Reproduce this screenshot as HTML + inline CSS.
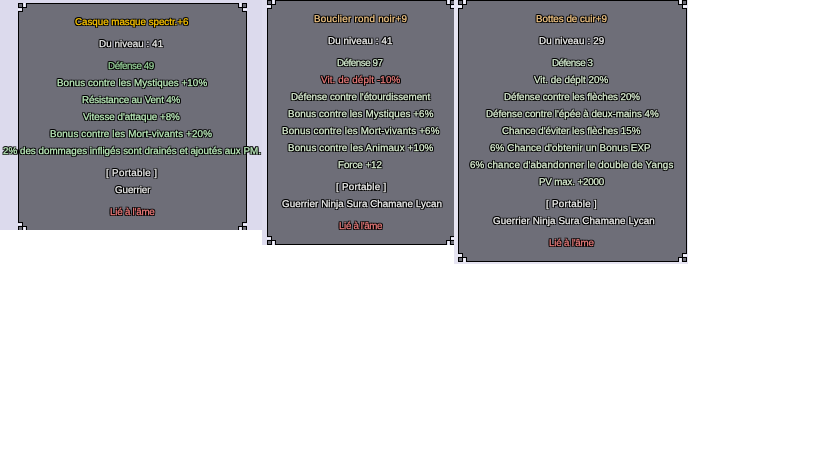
<!DOCTYPE html>
<html><head><meta charset="utf-8">
<style>
html,body{margin:0;padding:0;background:#fff;width:816px;height:460px;overflow:hidden;position:relative}
.im{position:absolute;overflow:hidden}
.pn{position:absolute;background:#6e6e78;box-sizing:border-box;border:1px solid #000}
.cn{position:absolute;display:block}
.t{position:absolute;white-space:nowrap;font-family:"Liberation Sans",sans-serif;font-size:9.8px;line-height:12px;will-change:transform;text-rendering:geometricPrecision;-webkit-text-stroke:0.25px currentColor;
text-shadow:1px 0 #000,-1px 0 #000,0 1px #000,0 -1px #000,1px 1px #000,-1px -1px #000,1px -1px #000,-1px 1px #000}
.t1{color:#ffc800}
.w{color:#ececec}
.g{color:#98d09a}
.b{color:#bcecbc}
.r{color:#f07a7a}
.q .t2{color:#f4c888}
.q .w{color:#f2f2f2}
.q .g{color:#d4ecd0}
.q .b{color:#dcf0d4}
.q .r{color:#ea7c7c}
</style></head><body>
<div class="im" style="left:0;top:0;width:262px;height:230px;background:#dcdaed">
<div class="pn" style="left:18px;top:3px;width:229px;height:228px"></div><svg class="cn" style="left:18px;top:3px" width="9" height="9" shape-rendering="crispEdges"><rect x="0" y="0" width="5" height="1" fill="#000"/><rect x="5" y="0" width="1" height="1" fill="#dcdaed"/><rect x="6" y="0" width="1" height="1" fill="#f4f4fb"/><rect x="7" y="0" width="1" height="1" fill="#dcdaed"/><rect x="8" y="0" width="1" height="1" fill="#000"/><rect x="0" y="1" width="1" height="1" fill="#000"/><rect x="1" y="1" width="3" height="1" fill="#6e6e78"/><rect x="4" y="1" width="1" height="1" fill="#000"/><rect x="5" y="1" width="1" height="1" fill="#dcdaed"/><rect x="6" y="1" width="1" height="1" fill="#f4f4fb"/><rect x="7" y="1" width="1" height="1" fill="#dcdaed"/><rect x="8" y="1" width="1" height="1" fill="#000"/><rect x="0" y="2" width="1" height="1" fill="#000"/><rect x="1" y="2" width="3" height="1" fill="#6e6e78"/><rect x="4" y="2" width="1" height="1" fill="#000"/><rect x="5" y="2" width="1" height="1" fill="#dcdaed"/><rect x="6" y="2" width="1" height="1" fill="#f4f4fb"/><rect x="7" y="2" width="1" height="1" fill="#dcdaed"/><rect x="8" y="2" width="1" height="1" fill="#000"/><rect x="0" y="3" width="1" height="1" fill="#000"/><rect x="1" y="3" width="3" height="1" fill="#6e6e78"/><rect x="4" y="3" width="1" height="1" fill="#000"/><rect x="5" y="3" width="1" height="1" fill="#dcdaed"/><rect x="6" y="3" width="1" height="1" fill="#f4f4fb"/><rect x="7" y="3" width="1" height="1" fill="#dcdaed"/><rect x="8" y="3" width="1" height="1" fill="#000"/><rect x="0" y="4" width="9" height="1" fill="#000"/><rect x="0" y="5" width="4" height="1" fill="#dcdaed"/><rect x="4" y="5" width="1" height="1" fill="#000"/><rect x="5" y="5" width="4" height="1" fill="#6e6e78"/><rect x="0" y="6" width="4" height="1" fill="#f4f4fb"/><rect x="4" y="6" width="1" height="1" fill="#000"/><rect x="5" y="6" width="4" height="1" fill="#6e6e78"/><rect x="0" y="7" width="4" height="1" fill="#dcdaed"/><rect x="4" y="7" width="1" height="1" fill="#000"/><rect x="5" y="7" width="4" height="1" fill="#6e6e78"/><rect x="0" y="8" width="5" height="1" fill="#000"/><rect x="5" y="8" width="4" height="1" fill="#6e6e78"/></svg><svg class="cn" style="left:238px;top:3px" width="9" height="9" shape-rendering="crispEdges"><rect x="0" y="0" width="1" height="1" fill="#000"/><rect x="1" y="0" width="1" height="1" fill="#dcdaed"/><rect x="2" y="0" width="1" height="1" fill="#f4f4fb"/><rect x="3" y="0" width="1" height="1" fill="#dcdaed"/><rect x="4" y="0" width="5" height="1" fill="#000"/><rect x="0" y="1" width="1" height="1" fill="#000"/><rect x="1" y="1" width="1" height="1" fill="#dcdaed"/><rect x="2" y="1" width="1" height="1" fill="#f4f4fb"/><rect x="3" y="1" width="1" height="1" fill="#dcdaed"/><rect x="4" y="1" width="1" height="1" fill="#000"/><rect x="5" y="1" width="3" height="1" fill="#6e6e78"/><rect x="8" y="1" width="1" height="1" fill="#000"/><rect x="0" y="2" width="1" height="1" fill="#000"/><rect x="1" y="2" width="1" height="1" fill="#dcdaed"/><rect x="2" y="2" width="1" height="1" fill="#f4f4fb"/><rect x="3" y="2" width="1" height="1" fill="#dcdaed"/><rect x="4" y="2" width="1" height="1" fill="#000"/><rect x="5" y="2" width="3" height="1" fill="#6e6e78"/><rect x="8" y="2" width="1" height="1" fill="#000"/><rect x="0" y="3" width="1" height="1" fill="#000"/><rect x="1" y="3" width="1" height="1" fill="#dcdaed"/><rect x="2" y="3" width="1" height="1" fill="#f4f4fb"/><rect x="3" y="3" width="1" height="1" fill="#dcdaed"/><rect x="4" y="3" width="1" height="1" fill="#000"/><rect x="5" y="3" width="3" height="1" fill="#6e6e78"/><rect x="8" y="3" width="1" height="1" fill="#000"/><rect x="0" y="4" width="9" height="1" fill="#000"/><rect x="0" y="5" width="4" height="1" fill="#6e6e78"/><rect x="4" y="5" width="1" height="1" fill="#000"/><rect x="5" y="5" width="4" height="1" fill="#dcdaed"/><rect x="0" y="6" width="4" height="1" fill="#6e6e78"/><rect x="4" y="6" width="1" height="1" fill="#000"/><rect x="5" y="6" width="4" height="1" fill="#f4f4fb"/><rect x="0" y="7" width="4" height="1" fill="#6e6e78"/><rect x="4" y="7" width="1" height="1" fill="#000"/><rect x="5" y="7" width="4" height="1" fill="#dcdaed"/><rect x="0" y="8" width="4" height="1" fill="#6e6e78"/><rect x="4" y="8" width="5" height="1" fill="#000"/></svg><svg class="cn" style="left:18px;top:222px" width="9" height="9" shape-rendering="crispEdges"><rect x="0" y="0" width="5" height="1" fill="#000"/><rect x="5" y="0" width="4" height="1" fill="#6e6e78"/><rect x="0" y="1" width="4" height="1" fill="#dcdaed"/><rect x="4" y="1" width="1" height="1" fill="#000"/><rect x="5" y="1" width="4" height="1" fill="#6e6e78"/><rect x="0" y="2" width="4" height="1" fill="#f4f4fb"/><rect x="4" y="2" width="1" height="1" fill="#000"/><rect x="5" y="2" width="4" height="1" fill="#6e6e78"/><rect x="0" y="3" width="4" height="1" fill="#dcdaed"/><rect x="4" y="3" width="1" height="1" fill="#000"/><rect x="5" y="3" width="4" height="1" fill="#6e6e78"/><rect x="0" y="4" width="9" height="1" fill="#000"/><rect x="0" y="5" width="1" height="1" fill="#000"/><rect x="1" y="5" width="3" height="1" fill="#6e6e78"/><rect x="4" y="5" width="1" height="1" fill="#000"/><rect x="5" y="5" width="1" height="1" fill="#dcdaed"/><rect x="6" y="5" width="1" height="1" fill="#f4f4fb"/><rect x="7" y="5" width="1" height="1" fill="#dcdaed"/><rect x="8" y="5" width="1" height="1" fill="#000"/><rect x="0" y="6" width="1" height="1" fill="#000"/><rect x="1" y="6" width="3" height="1" fill="#6e6e78"/><rect x="4" y="6" width="1" height="1" fill="#000"/><rect x="5" y="6" width="1" height="1" fill="#dcdaed"/><rect x="6" y="6" width="1" height="1" fill="#f4f4fb"/><rect x="7" y="6" width="1" height="1" fill="#dcdaed"/><rect x="8" y="6" width="1" height="1" fill="#000"/><rect x="0" y="7" width="1" height="1" fill="#000"/><rect x="1" y="7" width="3" height="1" fill="#6e6e78"/><rect x="4" y="7" width="1" height="1" fill="#000"/><rect x="5" y="7" width="1" height="1" fill="#dcdaed"/><rect x="6" y="7" width="1" height="1" fill="#f4f4fb"/><rect x="7" y="7" width="1" height="1" fill="#dcdaed"/><rect x="8" y="7" width="1" height="1" fill="#000"/><rect x="0" y="8" width="5" height="1" fill="#000"/><rect x="5" y="8" width="1" height="1" fill="#dcdaed"/><rect x="6" y="8" width="1" height="1" fill="#f4f4fb"/><rect x="7" y="8" width="1" height="1" fill="#dcdaed"/><rect x="8" y="8" width="1" height="1" fill="#000"/></svg><svg class="cn" style="left:238px;top:222px" width="9" height="9" shape-rendering="crispEdges"><rect x="0" y="0" width="4" height="1" fill="#6e6e78"/><rect x="4" y="0" width="5" height="1" fill="#000"/><rect x="0" y="1" width="4" height="1" fill="#6e6e78"/><rect x="4" y="1" width="1" height="1" fill="#000"/><rect x="5" y="1" width="4" height="1" fill="#dcdaed"/><rect x="0" y="2" width="4" height="1" fill="#6e6e78"/><rect x="4" y="2" width="1" height="1" fill="#000"/><rect x="5" y="2" width="4" height="1" fill="#f4f4fb"/><rect x="0" y="3" width="4" height="1" fill="#6e6e78"/><rect x="4" y="3" width="1" height="1" fill="#000"/><rect x="5" y="3" width="4" height="1" fill="#dcdaed"/><rect x="0" y="4" width="9" height="1" fill="#000"/><rect x="0" y="5" width="1" height="1" fill="#000"/><rect x="1" y="5" width="1" height="1" fill="#dcdaed"/><rect x="2" y="5" width="1" height="1" fill="#f4f4fb"/><rect x="3" y="5" width="1" height="1" fill="#dcdaed"/><rect x="4" y="5" width="1" height="1" fill="#000"/><rect x="5" y="5" width="3" height="1" fill="#6e6e78"/><rect x="8" y="5" width="1" height="1" fill="#000"/><rect x="0" y="6" width="1" height="1" fill="#000"/><rect x="1" y="6" width="1" height="1" fill="#dcdaed"/><rect x="2" y="6" width="1" height="1" fill="#f4f4fb"/><rect x="3" y="6" width="1" height="1" fill="#dcdaed"/><rect x="4" y="6" width="1" height="1" fill="#000"/><rect x="5" y="6" width="3" height="1" fill="#6e6e78"/><rect x="8" y="6" width="1" height="1" fill="#000"/><rect x="0" y="7" width="1" height="1" fill="#000"/><rect x="1" y="7" width="1" height="1" fill="#dcdaed"/><rect x="2" y="7" width="1" height="1" fill="#f4f4fb"/><rect x="3" y="7" width="1" height="1" fill="#dcdaed"/><rect x="4" y="7" width="1" height="1" fill="#000"/><rect x="5" y="7" width="3" height="1" fill="#6e6e78"/><rect x="8" y="7" width="1" height="1" fill="#000"/><rect x="0" y="8" width="1" height="1" fill="#000"/><rect x="1" y="8" width="1" height="1" fill="#dcdaed"/><rect x="2" y="8" width="1" height="1" fill="#f4f4fb"/><rect x="3" y="8" width="1" height="1" fill="#dcdaed"/><rect x="4" y="8" width="5" height="1" fill="#000"/></svg>
</div>
<div class="im" style="left:262px;top:0;width:192px;height:245px;background:#dfddef">
<div class="pn" style="left:5px;top:0px;width:188px;height:245px"></div><svg class="cn" style="left:5px;top:0px" width="9" height="9" shape-rendering="crispEdges"><rect x="0" y="0" width="5" height="1" fill="#000"/><rect x="5" y="0" width="1" height="1" fill="#dfddef"/><rect x="6" y="0" width="1" height="1" fill="#f4f4fb"/><rect x="7" y="0" width="1" height="1" fill="#dfddef"/><rect x="8" y="0" width="1" height="1" fill="#000"/><rect x="0" y="1" width="1" height="1" fill="#000"/><rect x="1" y="1" width="3" height="1" fill="#6e6e78"/><rect x="4" y="1" width="1" height="1" fill="#000"/><rect x="5" y="1" width="1" height="1" fill="#dfddef"/><rect x="6" y="1" width="1" height="1" fill="#f4f4fb"/><rect x="7" y="1" width="1" height="1" fill="#dfddef"/><rect x="8" y="1" width="1" height="1" fill="#000"/><rect x="0" y="2" width="1" height="1" fill="#000"/><rect x="1" y="2" width="3" height="1" fill="#6e6e78"/><rect x="4" y="2" width="1" height="1" fill="#000"/><rect x="5" y="2" width="1" height="1" fill="#dfddef"/><rect x="6" y="2" width="1" height="1" fill="#f4f4fb"/><rect x="7" y="2" width="1" height="1" fill="#dfddef"/><rect x="8" y="2" width="1" height="1" fill="#000"/><rect x="0" y="3" width="1" height="1" fill="#000"/><rect x="1" y="3" width="3" height="1" fill="#6e6e78"/><rect x="4" y="3" width="1" height="1" fill="#000"/><rect x="5" y="3" width="1" height="1" fill="#dfddef"/><rect x="6" y="3" width="1" height="1" fill="#f4f4fb"/><rect x="7" y="3" width="1" height="1" fill="#dfddef"/><rect x="8" y="3" width="1" height="1" fill="#000"/><rect x="0" y="4" width="9" height="1" fill="#000"/><rect x="0" y="5" width="4" height="1" fill="#dfddef"/><rect x="4" y="5" width="1" height="1" fill="#000"/><rect x="5" y="5" width="4" height="1" fill="#6e6e78"/><rect x="0" y="6" width="4" height="1" fill="#f4f4fb"/><rect x="4" y="6" width="1" height="1" fill="#000"/><rect x="5" y="6" width="4" height="1" fill="#6e6e78"/><rect x="0" y="7" width="4" height="1" fill="#dfddef"/><rect x="4" y="7" width="1" height="1" fill="#000"/><rect x="5" y="7" width="4" height="1" fill="#6e6e78"/><rect x="0" y="8" width="5" height="1" fill="#000"/><rect x="5" y="8" width="4" height="1" fill="#6e6e78"/></svg><svg class="cn" style="left:184px;top:0px" width="9" height="9" shape-rendering="crispEdges"><rect x="0" y="0" width="1" height="1" fill="#000"/><rect x="1" y="0" width="1" height="1" fill="#dfddef"/><rect x="2" y="0" width="1" height="1" fill="#f4f4fb"/><rect x="3" y="0" width="1" height="1" fill="#dfddef"/><rect x="4" y="0" width="5" height="1" fill="#000"/><rect x="0" y="1" width="1" height="1" fill="#000"/><rect x="1" y="1" width="1" height="1" fill="#dfddef"/><rect x="2" y="1" width="1" height="1" fill="#f4f4fb"/><rect x="3" y="1" width="1" height="1" fill="#dfddef"/><rect x="4" y="1" width="1" height="1" fill="#000"/><rect x="5" y="1" width="3" height="1" fill="#6e6e78"/><rect x="8" y="1" width="1" height="1" fill="#000"/><rect x="0" y="2" width="1" height="1" fill="#000"/><rect x="1" y="2" width="1" height="1" fill="#dfddef"/><rect x="2" y="2" width="1" height="1" fill="#f4f4fb"/><rect x="3" y="2" width="1" height="1" fill="#dfddef"/><rect x="4" y="2" width="1" height="1" fill="#000"/><rect x="5" y="2" width="3" height="1" fill="#6e6e78"/><rect x="8" y="2" width="1" height="1" fill="#000"/><rect x="0" y="3" width="1" height="1" fill="#000"/><rect x="1" y="3" width="1" height="1" fill="#dfddef"/><rect x="2" y="3" width="1" height="1" fill="#f4f4fb"/><rect x="3" y="3" width="1" height="1" fill="#dfddef"/><rect x="4" y="3" width="1" height="1" fill="#000"/><rect x="5" y="3" width="3" height="1" fill="#6e6e78"/><rect x="8" y="3" width="1" height="1" fill="#000"/><rect x="0" y="4" width="9" height="1" fill="#000"/><rect x="0" y="5" width="4" height="1" fill="#6e6e78"/><rect x="4" y="5" width="1" height="1" fill="#000"/><rect x="5" y="5" width="4" height="1" fill="#dfddef"/><rect x="0" y="6" width="4" height="1" fill="#6e6e78"/><rect x="4" y="6" width="1" height="1" fill="#000"/><rect x="5" y="6" width="4" height="1" fill="#f4f4fb"/><rect x="0" y="7" width="4" height="1" fill="#6e6e78"/><rect x="4" y="7" width="1" height="1" fill="#000"/><rect x="5" y="7" width="4" height="1" fill="#dfddef"/><rect x="0" y="8" width="4" height="1" fill="#6e6e78"/><rect x="4" y="8" width="5" height="1" fill="#000"/></svg><svg class="cn" style="left:5px;top:236px" width="9" height="9" shape-rendering="crispEdges"><rect x="0" y="0" width="5" height="1" fill="#000"/><rect x="5" y="0" width="4" height="1" fill="#6e6e78"/><rect x="0" y="1" width="4" height="1" fill="#dfddef"/><rect x="4" y="1" width="1" height="1" fill="#000"/><rect x="5" y="1" width="4" height="1" fill="#6e6e78"/><rect x="0" y="2" width="4" height="1" fill="#f4f4fb"/><rect x="4" y="2" width="1" height="1" fill="#000"/><rect x="5" y="2" width="4" height="1" fill="#6e6e78"/><rect x="0" y="3" width="4" height="1" fill="#dfddef"/><rect x="4" y="3" width="1" height="1" fill="#000"/><rect x="5" y="3" width="4" height="1" fill="#6e6e78"/><rect x="0" y="4" width="9" height="1" fill="#000"/><rect x="0" y="5" width="1" height="1" fill="#000"/><rect x="1" y="5" width="3" height="1" fill="#6e6e78"/><rect x="4" y="5" width="1" height="1" fill="#000"/><rect x="5" y="5" width="1" height="1" fill="#dfddef"/><rect x="6" y="5" width="1" height="1" fill="#f4f4fb"/><rect x="7" y="5" width="1" height="1" fill="#dfddef"/><rect x="8" y="5" width="1" height="1" fill="#000"/><rect x="0" y="6" width="1" height="1" fill="#000"/><rect x="1" y="6" width="3" height="1" fill="#6e6e78"/><rect x="4" y="6" width="1" height="1" fill="#000"/><rect x="5" y="6" width="1" height="1" fill="#dfddef"/><rect x="6" y="6" width="1" height="1" fill="#f4f4fb"/><rect x="7" y="6" width="1" height="1" fill="#dfddef"/><rect x="8" y="6" width="1" height="1" fill="#000"/><rect x="0" y="7" width="1" height="1" fill="#000"/><rect x="1" y="7" width="3" height="1" fill="#6e6e78"/><rect x="4" y="7" width="1" height="1" fill="#000"/><rect x="5" y="7" width="1" height="1" fill="#dfddef"/><rect x="6" y="7" width="1" height="1" fill="#f4f4fb"/><rect x="7" y="7" width="1" height="1" fill="#dfddef"/><rect x="8" y="7" width="1" height="1" fill="#000"/><rect x="0" y="8" width="5" height="1" fill="#000"/><rect x="5" y="8" width="1" height="1" fill="#dfddef"/><rect x="6" y="8" width="1" height="1" fill="#f4f4fb"/><rect x="7" y="8" width="1" height="1" fill="#dfddef"/><rect x="8" y="8" width="1" height="1" fill="#000"/></svg><svg class="cn" style="left:184px;top:236px" width="9" height="9" shape-rendering="crispEdges"><rect x="0" y="0" width="4" height="1" fill="#6e6e78"/><rect x="4" y="0" width="5" height="1" fill="#000"/><rect x="0" y="1" width="4" height="1" fill="#6e6e78"/><rect x="4" y="1" width="1" height="1" fill="#000"/><rect x="5" y="1" width="4" height="1" fill="#dfddef"/><rect x="0" y="2" width="4" height="1" fill="#6e6e78"/><rect x="4" y="2" width="1" height="1" fill="#000"/><rect x="5" y="2" width="4" height="1" fill="#f4f4fb"/><rect x="0" y="3" width="4" height="1" fill="#6e6e78"/><rect x="4" y="3" width="1" height="1" fill="#000"/><rect x="5" y="3" width="4" height="1" fill="#dfddef"/><rect x="0" y="4" width="9" height="1" fill="#000"/><rect x="0" y="5" width="1" height="1" fill="#000"/><rect x="1" y="5" width="1" height="1" fill="#dfddef"/><rect x="2" y="5" width="1" height="1" fill="#f4f4fb"/><rect x="3" y="5" width="1" height="1" fill="#dfddef"/><rect x="4" y="5" width="1" height="1" fill="#000"/><rect x="5" y="5" width="3" height="1" fill="#6e6e78"/><rect x="8" y="5" width="1" height="1" fill="#000"/><rect x="0" y="6" width="1" height="1" fill="#000"/><rect x="1" y="6" width="1" height="1" fill="#dfddef"/><rect x="2" y="6" width="1" height="1" fill="#f4f4fb"/><rect x="3" y="6" width="1" height="1" fill="#dfddef"/><rect x="4" y="6" width="1" height="1" fill="#000"/><rect x="5" y="6" width="3" height="1" fill="#6e6e78"/><rect x="8" y="6" width="1" height="1" fill="#000"/><rect x="0" y="7" width="1" height="1" fill="#000"/><rect x="1" y="7" width="1" height="1" fill="#dfddef"/><rect x="2" y="7" width="1" height="1" fill="#f4f4fb"/><rect x="3" y="7" width="1" height="1" fill="#dfddef"/><rect x="4" y="7" width="1" height="1" fill="#000"/><rect x="5" y="7" width="3" height="1" fill="#6e6e78"/><rect x="8" y="7" width="1" height="1" fill="#000"/><rect x="0" y="8" width="1" height="1" fill="#000"/><rect x="1" y="8" width="1" height="1" fill="#dfddef"/><rect x="2" y="8" width="1" height="1" fill="#f4f4fb"/><rect x="3" y="8" width="1" height="1" fill="#dfddef"/><rect x="4" y="8" width="5" height="1" fill="#000"/></svg>
</div>
<div class="im" style="left:454px;top:0;width:234px;height:264px;background:#e6e4f2">
<div class="pn" style="left:4px;top:0px;width:229px;height:262px"></div><svg class="cn" style="left:4px;top:0px" width="9" height="9" shape-rendering="crispEdges"><rect x="0" y="0" width="5" height="1" fill="#000"/><rect x="5" y="0" width="1" height="1" fill="#e6e4f2"/><rect x="6" y="0" width="1" height="1" fill="#f4f4fb"/><rect x="7" y="0" width="1" height="1" fill="#e6e4f2"/><rect x="8" y="0" width="1" height="1" fill="#000"/><rect x="0" y="1" width="1" height="1" fill="#000"/><rect x="1" y="1" width="3" height="1" fill="#6e6e78"/><rect x="4" y="1" width="1" height="1" fill="#000"/><rect x="5" y="1" width="1" height="1" fill="#e6e4f2"/><rect x="6" y="1" width="1" height="1" fill="#f4f4fb"/><rect x="7" y="1" width="1" height="1" fill="#e6e4f2"/><rect x="8" y="1" width="1" height="1" fill="#000"/><rect x="0" y="2" width="1" height="1" fill="#000"/><rect x="1" y="2" width="3" height="1" fill="#6e6e78"/><rect x="4" y="2" width="1" height="1" fill="#000"/><rect x="5" y="2" width="1" height="1" fill="#e6e4f2"/><rect x="6" y="2" width="1" height="1" fill="#f4f4fb"/><rect x="7" y="2" width="1" height="1" fill="#e6e4f2"/><rect x="8" y="2" width="1" height="1" fill="#000"/><rect x="0" y="3" width="1" height="1" fill="#000"/><rect x="1" y="3" width="3" height="1" fill="#6e6e78"/><rect x="4" y="3" width="1" height="1" fill="#000"/><rect x="5" y="3" width="1" height="1" fill="#e6e4f2"/><rect x="6" y="3" width="1" height="1" fill="#f4f4fb"/><rect x="7" y="3" width="1" height="1" fill="#e6e4f2"/><rect x="8" y="3" width="1" height="1" fill="#000"/><rect x="0" y="4" width="9" height="1" fill="#000"/><rect x="0" y="5" width="4" height="1" fill="#e6e4f2"/><rect x="4" y="5" width="1" height="1" fill="#000"/><rect x="5" y="5" width="4" height="1" fill="#6e6e78"/><rect x="0" y="6" width="4" height="1" fill="#f4f4fb"/><rect x="4" y="6" width="1" height="1" fill="#000"/><rect x="5" y="6" width="4" height="1" fill="#6e6e78"/><rect x="0" y="7" width="4" height="1" fill="#e6e4f2"/><rect x="4" y="7" width="1" height="1" fill="#000"/><rect x="5" y="7" width="4" height="1" fill="#6e6e78"/><rect x="0" y="8" width="5" height="1" fill="#000"/><rect x="5" y="8" width="4" height="1" fill="#6e6e78"/></svg><svg class="cn" style="left:224px;top:0px" width="9" height="9" shape-rendering="crispEdges"><rect x="0" y="0" width="1" height="1" fill="#000"/><rect x="1" y="0" width="1" height="1" fill="#e6e4f2"/><rect x="2" y="0" width="1" height="1" fill="#f4f4fb"/><rect x="3" y="0" width="1" height="1" fill="#e6e4f2"/><rect x="4" y="0" width="5" height="1" fill="#000"/><rect x="0" y="1" width="1" height="1" fill="#000"/><rect x="1" y="1" width="1" height="1" fill="#e6e4f2"/><rect x="2" y="1" width="1" height="1" fill="#f4f4fb"/><rect x="3" y="1" width="1" height="1" fill="#e6e4f2"/><rect x="4" y="1" width="1" height="1" fill="#000"/><rect x="5" y="1" width="3" height="1" fill="#6e6e78"/><rect x="8" y="1" width="1" height="1" fill="#000"/><rect x="0" y="2" width="1" height="1" fill="#000"/><rect x="1" y="2" width="1" height="1" fill="#e6e4f2"/><rect x="2" y="2" width="1" height="1" fill="#f4f4fb"/><rect x="3" y="2" width="1" height="1" fill="#e6e4f2"/><rect x="4" y="2" width="1" height="1" fill="#000"/><rect x="5" y="2" width="3" height="1" fill="#6e6e78"/><rect x="8" y="2" width="1" height="1" fill="#000"/><rect x="0" y="3" width="1" height="1" fill="#000"/><rect x="1" y="3" width="1" height="1" fill="#e6e4f2"/><rect x="2" y="3" width="1" height="1" fill="#f4f4fb"/><rect x="3" y="3" width="1" height="1" fill="#e6e4f2"/><rect x="4" y="3" width="1" height="1" fill="#000"/><rect x="5" y="3" width="3" height="1" fill="#6e6e78"/><rect x="8" y="3" width="1" height="1" fill="#000"/><rect x="0" y="4" width="9" height="1" fill="#000"/><rect x="0" y="5" width="4" height="1" fill="#6e6e78"/><rect x="4" y="5" width="1" height="1" fill="#000"/><rect x="5" y="5" width="4" height="1" fill="#e6e4f2"/><rect x="0" y="6" width="4" height="1" fill="#6e6e78"/><rect x="4" y="6" width="1" height="1" fill="#000"/><rect x="5" y="6" width="4" height="1" fill="#f4f4fb"/><rect x="0" y="7" width="4" height="1" fill="#6e6e78"/><rect x="4" y="7" width="1" height="1" fill="#000"/><rect x="5" y="7" width="4" height="1" fill="#e6e4f2"/><rect x="0" y="8" width="4" height="1" fill="#6e6e78"/><rect x="4" y="8" width="5" height="1" fill="#000"/></svg><svg class="cn" style="left:4px;top:253px" width="9" height="9" shape-rendering="crispEdges"><rect x="0" y="0" width="5" height="1" fill="#000"/><rect x="5" y="0" width="4" height="1" fill="#6e6e78"/><rect x="0" y="1" width="4" height="1" fill="#e6e4f2"/><rect x="4" y="1" width="1" height="1" fill="#000"/><rect x="5" y="1" width="4" height="1" fill="#6e6e78"/><rect x="0" y="2" width="4" height="1" fill="#f4f4fb"/><rect x="4" y="2" width="1" height="1" fill="#000"/><rect x="5" y="2" width="4" height="1" fill="#6e6e78"/><rect x="0" y="3" width="4" height="1" fill="#e6e4f2"/><rect x="4" y="3" width="1" height="1" fill="#000"/><rect x="5" y="3" width="4" height="1" fill="#6e6e78"/><rect x="0" y="4" width="9" height="1" fill="#000"/><rect x="0" y="5" width="1" height="1" fill="#000"/><rect x="1" y="5" width="3" height="1" fill="#6e6e78"/><rect x="4" y="5" width="1" height="1" fill="#000"/><rect x="5" y="5" width="1" height="1" fill="#e6e4f2"/><rect x="6" y="5" width="1" height="1" fill="#f4f4fb"/><rect x="7" y="5" width="1" height="1" fill="#e6e4f2"/><rect x="8" y="5" width="1" height="1" fill="#000"/><rect x="0" y="6" width="1" height="1" fill="#000"/><rect x="1" y="6" width="3" height="1" fill="#6e6e78"/><rect x="4" y="6" width="1" height="1" fill="#000"/><rect x="5" y="6" width="1" height="1" fill="#e6e4f2"/><rect x="6" y="6" width="1" height="1" fill="#f4f4fb"/><rect x="7" y="6" width="1" height="1" fill="#e6e4f2"/><rect x="8" y="6" width="1" height="1" fill="#000"/><rect x="0" y="7" width="1" height="1" fill="#000"/><rect x="1" y="7" width="3" height="1" fill="#6e6e78"/><rect x="4" y="7" width="1" height="1" fill="#000"/><rect x="5" y="7" width="1" height="1" fill="#e6e4f2"/><rect x="6" y="7" width="1" height="1" fill="#f4f4fb"/><rect x="7" y="7" width="1" height="1" fill="#e6e4f2"/><rect x="8" y="7" width="1" height="1" fill="#000"/><rect x="0" y="8" width="5" height="1" fill="#000"/><rect x="5" y="8" width="1" height="1" fill="#e6e4f2"/><rect x="6" y="8" width="1" height="1" fill="#f4f4fb"/><rect x="7" y="8" width="1" height="1" fill="#e6e4f2"/><rect x="8" y="8" width="1" height="1" fill="#000"/></svg><svg class="cn" style="left:224px;top:253px" width="9" height="9" shape-rendering="crispEdges"><rect x="0" y="0" width="4" height="1" fill="#6e6e78"/><rect x="4" y="0" width="5" height="1" fill="#000"/><rect x="0" y="1" width="4" height="1" fill="#6e6e78"/><rect x="4" y="1" width="1" height="1" fill="#000"/><rect x="5" y="1" width="4" height="1" fill="#e6e4f2"/><rect x="0" y="2" width="4" height="1" fill="#6e6e78"/><rect x="4" y="2" width="1" height="1" fill="#000"/><rect x="5" y="2" width="4" height="1" fill="#f4f4fb"/><rect x="0" y="3" width="4" height="1" fill="#6e6e78"/><rect x="4" y="3" width="1" height="1" fill="#000"/><rect x="5" y="3" width="4" height="1" fill="#e6e4f2"/><rect x="0" y="4" width="9" height="1" fill="#000"/><rect x="0" y="5" width="1" height="1" fill="#000"/><rect x="1" y="5" width="1" height="1" fill="#e6e4f2"/><rect x="2" y="5" width="1" height="1" fill="#f4f4fb"/><rect x="3" y="5" width="1" height="1" fill="#e6e4f2"/><rect x="4" y="5" width="1" height="1" fill="#000"/><rect x="5" y="5" width="3" height="1" fill="#6e6e78"/><rect x="8" y="5" width="1" height="1" fill="#000"/><rect x="0" y="6" width="1" height="1" fill="#000"/><rect x="1" y="6" width="1" height="1" fill="#e6e4f2"/><rect x="2" y="6" width="1" height="1" fill="#f4f4fb"/><rect x="3" y="6" width="1" height="1" fill="#e6e4f2"/><rect x="4" y="6" width="1" height="1" fill="#000"/><rect x="5" y="6" width="3" height="1" fill="#6e6e78"/><rect x="8" y="6" width="1" height="1" fill="#000"/><rect x="0" y="7" width="1" height="1" fill="#000"/><rect x="1" y="7" width="1" height="1" fill="#e6e4f2"/><rect x="2" y="7" width="1" height="1" fill="#f4f4fb"/><rect x="3" y="7" width="1" height="1" fill="#e6e4f2"/><rect x="4" y="7" width="1" height="1" fill="#000"/><rect x="5" y="7" width="3" height="1" fill="#6e6e78"/><rect x="8" y="7" width="1" height="1" fill="#000"/><rect x="0" y="8" width="1" height="1" fill="#000"/><rect x="1" y="8" width="1" height="1" fill="#e6e4f2"/><rect x="2" y="8" width="1" height="1" fill="#f4f4fb"/><rect x="3" y="8" width="1" height="1" fill="#e6e4f2"/><rect x="4" y="8" width="5" height="1" fill="#000"/></svg>
</div>
<div class="t t1" style="left:75px;top:17px;letter-spacing:-0.031px">Casque masque spectr.+6</div><div class="t w" style="left:99px;top:39px;letter-spacing:0.069px">Du niveau : 41</div><div class="t g" style="left:108px;top:61px;letter-spacing:-0.423px">Défense 49</div><div class="t b" style="left:57px;top:78px;letter-spacing:0.075px">Bonus contre les Mystiques +10%</div><div class="t b" style="left:82px;top:95px;letter-spacing:-0.150px">Résistance au Vent 4%</div><div class="t b" style="left:83px;top:112px;letter-spacing:-0.025px">Vitesse d&#39;attaque +8%</div><div class="t b" style="left:50px;top:129px;letter-spacing:0.144px">Bonus contre les Mort-vivants +20%</div><div class="t b" style="left:3px;top:146px;letter-spacing:0.015px">2% des dommages infligés sont drainés et ajoutés aux PM.</div><div class="t w" style="left:106px;top:168px;letter-spacing:0.318px">[ Portable ]</div><div class="t w" style="left:115px;top:185px;letter-spacing:-0.071px">Guerrier</div><div class="t r" style="left:110px;top:207px;letter-spacing:-0.225px">Lié à l&#39;âme</div><div class="q"><div class="t t2" style="left:314px;top:14px;letter-spacing:0.263px">Bouclier rond noir+9</div><div class="t w" style="left:328px;top:36px;letter-spacing:0.097px">Du niveau : 41</div><div class="t g" style="left:337px;top:58px;letter-spacing:-0.472px">Défense 97</div><div class="t r" style="left:321px;top:75px;letter-spacing:0.118px">Vit. de déplt -10%</div><div class="t b" style="left:291px;top:92px;letter-spacing:-0.033px">Défense contre l&#39;étourdissement</div><div class="t b" style="left:288px;top:109px;letter-spacing:0.103px">Bonus contre les Mystiques +6%</div><div class="t b" style="left:282px;top:126px;letter-spacing:0.180px">Bonus contre les Mort-vivants +6%</div><div class="t b" style="left:288px;top:143px;letter-spacing:0.143px">Bonus contre les Animaux +10%</div><div class="t b" style="left:338px;top:160px;letter-spacing:-0.062px">Force +12</div><div class="t w" style="left:336px;top:182px;letter-spacing:0.250px">[ Portable ]</div><div class="t w" style="left:282px;top:199px;letter-spacing:0.055px">Guerrier Ninja Sura Chamane Lycan</div><div class="t r" style="left:339px;top:221px;letter-spacing:-0.350px">Lié à l&#39;âme</div><div class="t t2" style="left:536px;top:14px;letter-spacing:-0.016px">Bottes de cuir+9</div><div class="t w" style="left:539px;top:36px;letter-spacing:0.154px">Du niveau : 29</div><div class="t g" style="left:552px;top:58px;letter-spacing:-0.468px">Défense 3</div><div class="t b" style="left:534px;top:75px;letter-spacing:0.015px">Vit. de déplt 20%</div><div class="t b" style="left:504px;top:92px;letter-spacing:-0.061px">Défense contre les flèches 20%</div><div class="t b" style="left:486px;top:109px;letter-spacing:-0.021px">Défense contre l&#39;épée à deux-mains 4%</div><div class="t b" style="left:502px;top:126px;letter-spacing:-0.024px">Chance d&#39;éviter les flèches 15%</div><div class="t b" style="left:490px;top:143px;letter-spacing:0.113px">6% Chance d&#39;obtenir un Bonus EXP</div><div class="t b" style="left:470px;top:160px;letter-spacing:0.170px">6% chance d&#39;abandonner le double de Yangs</div><div class="t b" style="left:539px;top:177px;letter-spacing:-0.167px">PV max. +2000</div><div class="t w" style="left:546px;top:199px;letter-spacing:0.295px">[ Portable ]</div><div class="t w" style="left:493px;top:216px;letter-spacing:0.112px">Guerrier Ninja Sura Chamane Lycan</div><div class="t r" style="left:549px;top:238px;letter-spacing:-0.210px">Lié à l&#39;âme</div></div>
</body></html>
